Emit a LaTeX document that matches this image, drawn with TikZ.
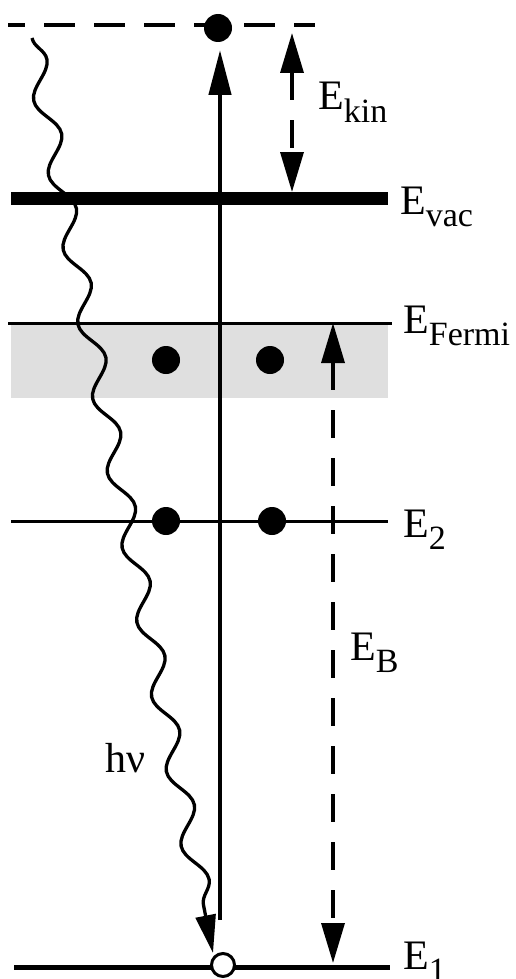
\documentclass[tikz,border=0pt]{standalone}
\usepackage{fontspec}
\setmainfont{Liberation Serif}
\usetikzlibrary{arrows.meta,decorations.pathmorphing}
\newcommand\lvsub[1]{\raisebox{-0.3em}{\fontsize{34}{40}\selectfont #1}}
\begin{document}
\begin{tikzpicture}[x=1pt,y=-1pt,
  lbl/.style={anchor=base west, inner sep=0pt, font=\fontsize{42}{48}\selectfont},
  thinlevel/.style={line width=3pt},
  dot/.style={circle, fill=black, minimum size=28pt, inner sep=0pt},
  hole/.style={circle, draw=black, fill=white, line width=3pt, minimum size=23pt, inner sep=0pt},
  mainarrow/.style={line width=4.5pt, -{Triangle[width=22pt,length=45pt]}},
  dimarrow/.style={line width=3.5pt, dash pattern=on 28pt off 20pt,
     {Triangle[width=23pt,length=40pt]}-{Triangle[width=23pt,length=40pt]}},
  photon/.style={line width=3.3pt, decorate,
     decoration={snake, amplitude=10.5pt, segment length=76pt, post length=28pt},
     -{Triangle[width=20pt,length=38pt]}},
]
\useasboundingbox (0,0) rectangle (516,979);

% coordinates
\coordinate (topL) at (8,25);
\coordinate (topR) at (315,25);
\coordinate (vacL) at (11,198);
\coordinate (vacR) at (388,198);
\coordinate (ferL) at (8,323);
\coordinate (ferR) at (392,323);
\coordinate (e2L) at (11,521);
\coordinate (e2R) at (388,521);
\coordinate (e1L) at (14,967);
\coordinate (e1R) at (390,967);
\coordinate (arrS) at (220,920);
\coordinate (arrE) at (220,50);
\coordinate (kinT) at (292,33);
\coordinate (kinB) at (292,192);
\coordinate (ebT) at (333,323);
\coordinate (ebB) at (333,963);
\coordinate (phS) at (32,38);
\coordinate (phE) at (213,953);

% band
\fill[gray!25] (11,323) rectangle (388,398);

% levels
\draw[line width=4pt, dash pattern=on 31pt off 19pt, dash phase=14pt] (topL) -- (topR);
\draw[line width=13pt] (vacL) -- (vacR);
\draw[thinlevel] (ferL) -- (ferR);
\draw[thinlevel] (e2L) -- (e2R);
\draw[line width=5pt] (e1L) -- (e1R);

% arrows
\draw[mainarrow] (arrS) -- (arrE);
\draw[dimarrow] (kinT) -- (kinB);
\draw[dimarrow] (ebT) -- (ebB);

% electrons
\node[dot] (eTop) at (218,28) {};
\node[dot] (eF1) at (166,360) {};
\node[dot] (eF2) at (270,360) {};
\node[dot] (e21) at (166,521) {};
\node[dot] (e22) at (272,521) {};

% photon
\draw[photon] (phS) -- (phE);
\node[hole] (hole) at (223,965) {};

% labels
\node[lbl] (lkin) at (318,110) {E\lvsub{kin}};
\node[lbl] (lvac) at (400,214) {E\lvsub{vac}};
\node[lbl] (lfer) at (403,333) {E\lvsub{Fermi}};
\node[lbl] (le2) at (403,537) {E\lvsub{2}};
\node[lbl] (leb) at (350,660) {E\lvsub{B}};
\node[lbl] (le1) at (403,969) {E\lvsub{1}};
\node[lbl] (lhv) at (105,772) {hν};
\end{tikzpicture}
\end{document}
